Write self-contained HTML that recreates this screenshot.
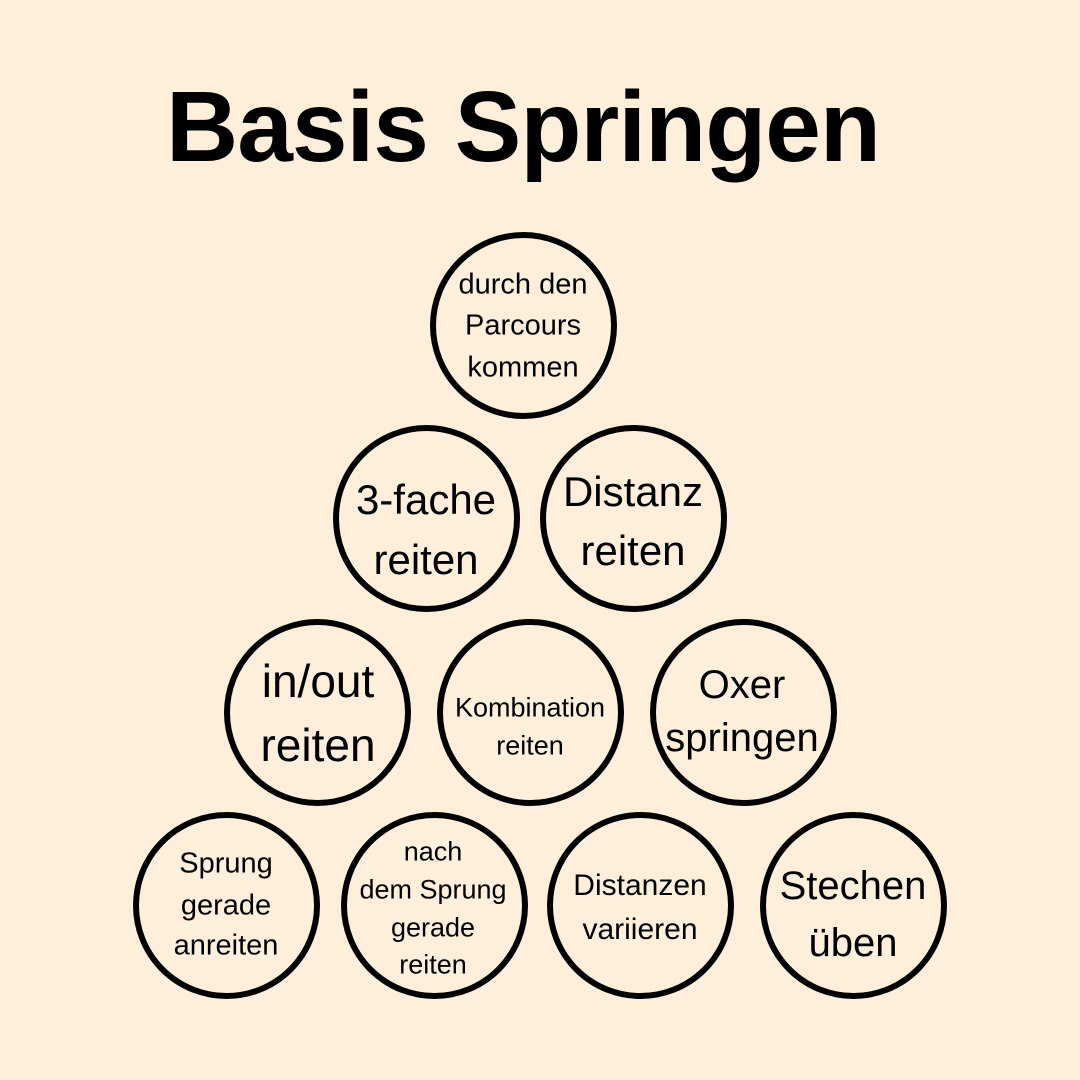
<!DOCTYPE html>
<html><head><meta charset="utf-8"><style>
body{margin:0;width:1080px;height:1080px;background:#feefdb;position:relative;overflow:hidden;font-family:"Liberation Sans",sans-serif;color:#000}
.t{position:absolute;left:0;width:1046px;text-align:center;top:72px;font-size:100px;font-weight:bold;line-height:110px;letter-spacing:-1px}
.c{position:absolute;width:175px;height:175px;border:6px solid #000;border-radius:50%;box-sizing:content-box}
.l{position:absolute;white-space:nowrap;transform:translate(-50%,-50%);line-height:1}
</style></head><body>
<div class="t">Basis Springen</div>
<div class="c" style="left:430px;top:232px"></div>
<div class="c" style="left:333px;top:425px"></div>
<div class="c" style="left:540px;top:425px"></div>
<div class="c" style="left:224px;top:619px"></div>
<div class="c" style="left:437px;top:619px"></div>
<div class="c" style="left:650px;top:619px"></div>
<div class="c" style="left:133px;top:812px"></div>
<div class="c" style="left:341px;top:812px"></div>
<div class="c" style="left:547px;top:812px"></div>
<div class="c" style="left:760px;top:812px"></div>

<div class="l" style="left:523px;top:285px;font-size:29px">durch den</div>
<div class="l" style="left:523px;top:326px;font-size:29px">Parcours</div>
<div class="l" style="left:523px;top:368px;font-size:29px">kommen</div>

<div class="l" style="left:426px;top:500px;font-size:42px">3-fache</div>
<div class="l" style="left:426px;top:560px;font-size:42px">reiten</div>
<div class="l" style="left:633px;top:492px;font-size:42px">Distanz</div>
<div class="l" style="left:633px;top:551px;font-size:42px">reiten</div>

<div class="l" style="left:318px;top:681px;font-size:46px">in/out</div>
<div class="l" style="left:318px;top:745px;font-size:46px">reiten</div>
<div class="l" style="left:530px;top:708px;font-size:27px">Kombination</div>
<div class="l" style="left:530px;top:746px;font-size:27px">reiten</div>
<div class="l" style="left:742px;top:685px;font-size:40px">Oxer</div>
<div class="l" style="left:742px;top:738px;font-size:40px">springen</div>

<div class="l" style="left:226px;top:864px;font-size:29px">Sprung</div>
<div class="l" style="left:226px;top:906px;font-size:29px">gerade</div>
<div class="l" style="left:226px;top:946px;font-size:29px">anreiten</div>
<div class="l" style="left:433px;top:852px;font-size:27px">nach</div>
<div class="l" style="left:433px;top:890px;font-size:27px">dem Sprung</div>
<div class="l" style="left:433px;top:928px;font-size:27px">gerade</div>
<div class="l" style="left:433px;top:965px;font-size:27px">reiten</div>
<div class="l" style="left:640px;top:886px;font-size:30px">Distanzen</div>
<div class="l" style="left:640px;top:930px;font-size:30px">variieren</div>
<div class="l" style="left:853px;top:886px;font-size:40px">Stechen</div>
<div class="l" style="left:853px;top:943px;font-size:40px">üben</div>
</body></html>
